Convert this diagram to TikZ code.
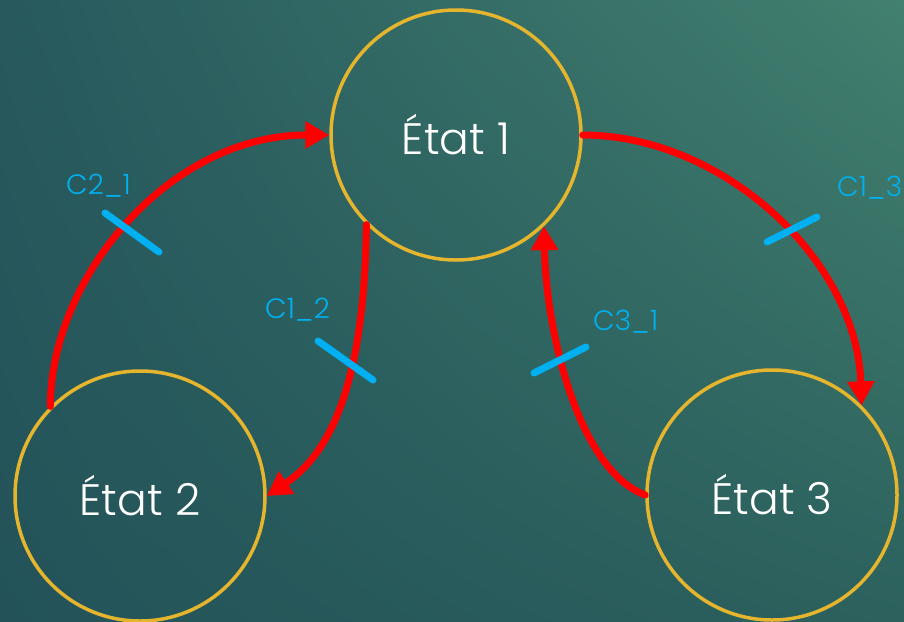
\documentclass[tikz,border=0pt]{standalone}
\usepackage{fontspec}
\setmainfont{Poppins}[UprightFont={* Light}]
\usetikzlibrary{arrows.meta,shadings}
\definecolor{bgUL}{HTML}{27595D}
\definecolor{bgUR}{HTML}{42806F}
\definecolor{bgLL}{HTML}{235359}
\definecolor{bgLR}{HTML}{2C615D}
\definecolor{ringcol}{HTML}{E6B52E}
\definecolor{tickcol}{HTML}{00B0F0}
\definecolor{arrcol}{HTML}{FF0000}
\tikzset{
  state/.style={circle, draw=ringcol, line width=3.5pt, minimum size=250pt, inner sep=0pt,
    text=white, font=\fontsize{44}{52}\selectfont},
  trans/.style={draw=arrcol, line width=7pt, line cap=round, -{Triangle[length=24pt,width=26pt]}},
  tickmark/.style={draw=tickcol, line width=7pt, line cap=round},
  cond/.style={text=tickcol, font=\fontsize{28}{34}\selectfont, inner sep=0pt}
}
\begin{document}
\begin{tikzpicture}[x=1pt,y=-1pt]
\shade[upper left=bgUL, upper right=bgUR, lower left=bgLL, lower right=bgLR] (0,0) rectangle (904,621);
\useasboundingbox (0,0) rectangle (904,621);
\node[state] (e1) at (456,135) {État 1};
\node[state] (e2) at (140,496) {État 2};
\node[state] (e3) at (772,495) {État 3};
% transitions
\draw[trans] (e2.135) .. controls +(0,-128) and +(-161,0) .. (e1.west);
\draw[trans] (e1.225) .. controls +(-2,157) and +(65,-44) .. (e2.east);
\draw[trans] (e3.west) .. controls +(-67,-25) and +(2,105) .. (e1.314);
\draw[trans] (e1.east) .. controls +(139,0) and +(-5,-147) .. (e3.45);
% condition ticks
\draw[tickmark] (105,213) -- (159,252);
\draw[tickmark] (318,341) -- (373,380);
\draw[tickmark] (534,373) -- (586,347);
\draw[tickmark] (767,242) -- (817,217);
% labels
\node[cond, anchor=west] (l21) at (66,186) {C2\_1};
\node[cond, anchor=west] (l12) at (265,310) {C1\_2};
\node[cond, anchor=west] (l31) at (593,322) {C3\_1};
\node[cond, anchor=west] (l13) at (837,188) {C1\_3};
\end{tikzpicture}
\end{document}
